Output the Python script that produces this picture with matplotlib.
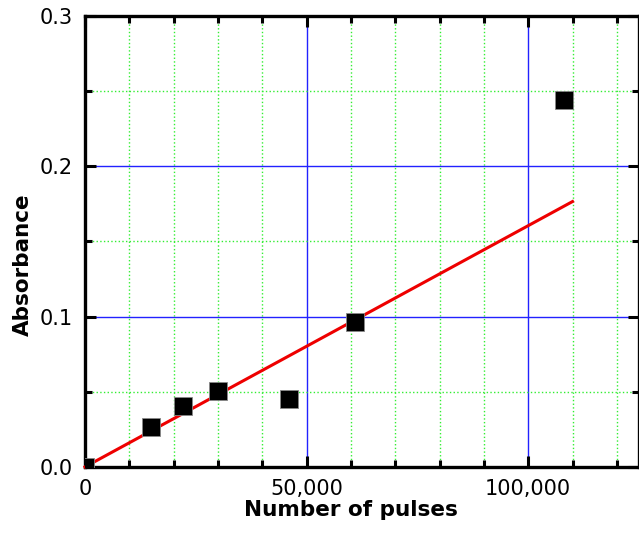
"""absorbance vs number of pulses"""

import numpy as np
import matplotlib
matplotlib.use('Agg')
import matplotlib.pyplot as plt
from matplotlib.ticker import MultipleLocator, FuncFormatter

plt.rcParams['font.family'] = ['DejaVu Sans']

#=== data ===
pulses     = [0, 15000, 22100, 30100, 46100, 60900, 108000]
absorbance = [0.0, 0.0265, 0.0405, 0.0503, 0.0455, 0.0963, 0.244]

fit_x     = [0, 110000]
fit_slope = 1.605e-6

fig = plt.figure(figsize=(6.39, 5.33), dpi=100)
ax = fig.add_axes([0.133, 0.124, 0.867, 0.846])

ax.set_xlim(0, 125000)
ax.set_ylim(0, 0.3)

#=== grid: blue major, green dotted minor ===
ax.xaxis.set_major_locator(MultipleLocator(50000))
ax.xaxis.set_minor_locator(MultipleLocator(10000))
ax.yaxis.set_major_locator(MultipleLocator(0.1))
ax.yaxis.set_minor_locator(MultipleLocator(0.05))
ax.grid(which='minor', color='#33ee33', linestyle=':', linewidth=1.0)
ax.grid(which='major', color='#2222ff', linestyle='-', linewidth=1.0)
ax.set_axisbelow(True)

fx = np.array(fit_x)
ax.plot(fx, fit_slope * fx, color='#ee0000', linewidth=2.2, zorder=3, clip_on=False)
ax.plot(pulses, absorbance, linestyle='none', marker='s', markersize=12.5,
        markerfacecolor='black', markeredgecolor='#888888', markeredgewidth=0.6,
        zorder=4)

ax.xaxis.set_major_formatter(FuncFormatter(lambda v, p: '{:,.0f}'.format(v)))
ax.yaxis.set_major_formatter(FuncFormatter(lambda v, p: '{:.1f}'.format(v)))

for s in ax.spines.values():
    s.set_linewidth(2.4)
ax.tick_params(which='both', direction='in', top=True, right=True, width=2.2,
               labelsize=15, colors='black')
ax.tick_params(axis='x', pad=9)
ax.tick_params(axis='y', pad=8.5)
ax.tick_params(which='major', length=8)
ax.tick_params(which='minor', length=5)

ax.set_xlabel('Number of pulses', fontsize=15.5, fontweight='bold')
ax.set_ylabel('Absorbance', fontsize=15.5, fontweight='bold')
ax.xaxis.set_label_coords(0.48, -0.074)
ax.yaxis.set_label_coords(-0.094, 0.448)

plt.savefig('out.png', dpi=100)
